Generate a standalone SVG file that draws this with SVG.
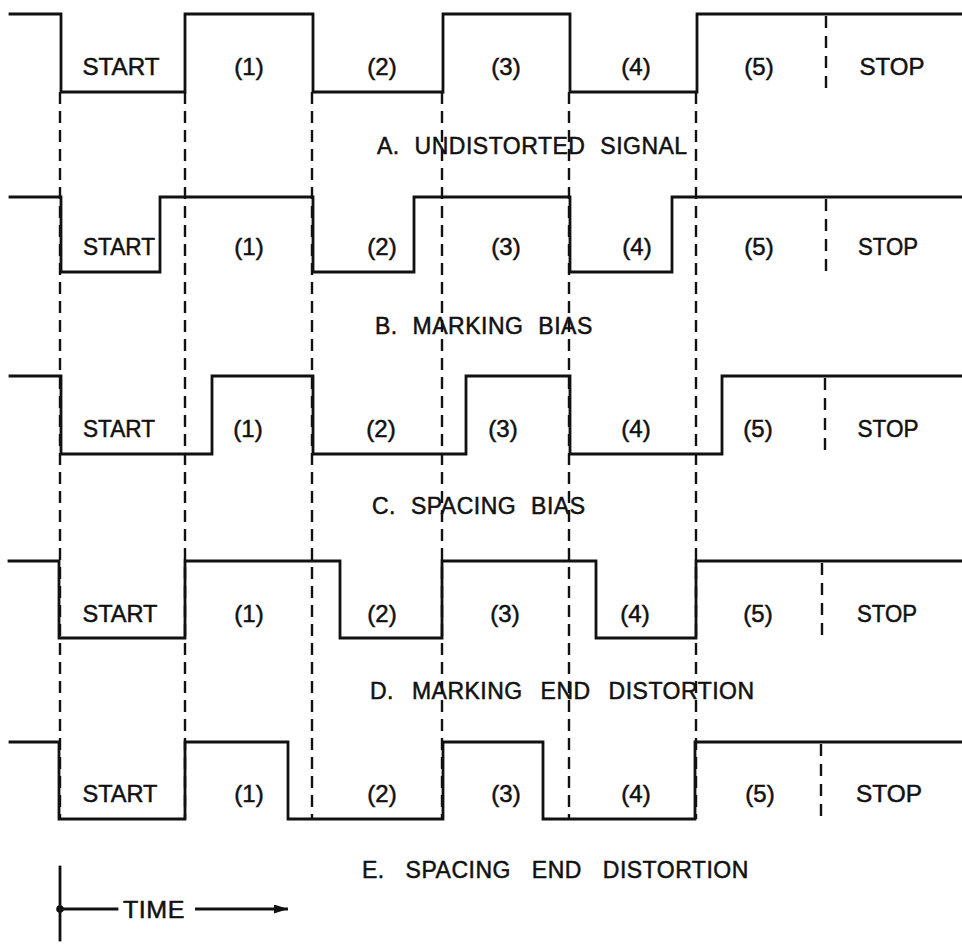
<svg xmlns="http://www.w3.org/2000/svg" width="962" height="950" viewBox="0 0 962 950">
<style>
.sig{fill:none;stroke:#111;stroke-width:2.8;stroke-linejoin:miter;stroke-linecap:square}
.grid{fill:none;stroke:#111;stroke-width:2.4;stroke-dasharray:12 7}
.stop{fill:none;stroke:#111;stroke-width:2.4;stroke-dasharray:12 8}
.lbl{font-family:"Liberation Sans",Arial,sans-serif;font-size:24px;fill:#111;stroke:#111;stroke-width:0.5;text-anchor:middle}
.ttl{font-family:"Liberation Sans",Arial,sans-serif;font-size:23px;fill:#111;stroke:#111;stroke-width:0.5;letter-spacing:0.5px;word-spacing:8px}
</style>
<defs>
<marker id="ah" viewBox="0 0 14 9" refX="14" refY="4.5" markerWidth="14" markerHeight="9" markerUnits="userSpaceOnUse" orient="auto">
<path d="M0,0 L14,4.5 L0,9 Z" fill="#111"/>
</marker>
</defs>
<rect width="962" height="950" fill="#fff"/>
<g id="connectors">
<path class="grid" d="M60,92 V819 M185,92 V819 M312,92 V819 M442,92 V819 M569,92 V819 M696,92 V819"/>
</g>
<g id="rowA">
<path class="sig" d="M10,14 H61 V92 H185 V14 H313 V92 H443 V14 H570 V92 H697 V14 H962"/>
<path class="stop" d="M826,16 V92"/>
<text class="lbl" x="121" y="75" textLength="77" lengthAdjust="spacingAndGlyphs">START</text>
<text class="lbl" x="249" y="75">(1)</text>
<text class="lbl" x="382" y="75">(2)</text>
<text class="lbl" x="506" y="75">(3)</text>
<text class="lbl" x="636" y="75">(4)</text>
<text class="lbl" x="759" y="75">(5)</text>
<text class="lbl" x="892" y="75" textLength="65" lengthAdjust="spacingAndGlyphs">STOP</text>
<text class="ttl" x="377" y="154">A. UNDISTORTED SIGNAL</text>
</g>
<g id="rowB">
<path class="sig" d="M10,197 H61 V272 H160 V197 H313 V272 H414 V197 H570 V272 H672 V197 H962"/>
<path class="stop" d="M826,199 V272"/>
<text class="lbl" x="119" y="255" textLength="72" lengthAdjust="spacingAndGlyphs">START</text>
<text class="lbl" x="249" y="255">(1)</text>
<text class="lbl" x="382" y="255">(2)</text>
<text class="lbl" x="506" y="255">(3)</text>
<text class="lbl" x="637" y="255">(4)</text>
<text class="lbl" x="759" y="255">(5)</text>
<text class="lbl" x="888" y="255" textLength="60" lengthAdjust="spacingAndGlyphs">STOP</text>
<text class="ttl" x="375" y="334">B. MARKING BIAS</text>
</g>
<g id="rowC">
<path class="sig" d="M10,376 H61 V454 H212 V376 H313 V454 H466 V376 H570 V454 H722 V376 H962"/>
<path class="stop" d="M825,378 V454"/>
<text class="lbl" x="119" y="437" textLength="72" lengthAdjust="spacingAndGlyphs">START</text>
<text class="lbl" x="248" y="437">(1)</text>
<text class="lbl" x="381" y="437">(2)</text>
<text class="lbl" x="503" y="437">(3)</text>
<text class="lbl" x="636" y="437">(4)</text>
<text class="lbl" x="758" y="437">(5)</text>
<text class="lbl" x="888" y="437" textLength="61" lengthAdjust="spacingAndGlyphs">STOP</text>
<text class="ttl" x="372" y="514">C. SPACING BIAS</text>
</g>
<g id="rowD">
<path class="sig" d="M9,561 H59 V638 H185 V561 H340 V638 H442 V561 H596 V638 H696 V561 H962"/>
<path class="stop" d="M822,563 V638"/>
<text class="lbl" x="120" y="622" textLength="75" lengthAdjust="spacingAndGlyphs">START</text>
<text class="lbl" x="249" y="622">(1)</text>
<text class="lbl" x="382" y="622">(2)</text>
<text class="lbl" x="505" y="622">(3)</text>
<text class="lbl" x="635" y="622">(4)</text>
<text class="lbl" x="758" y="622">(5)</text>
<text class="lbl" x="887" y="622" textLength="60" lengthAdjust="spacingAndGlyphs">STOP</text>
<text class="ttl" x="370" y="699" style="word-spacing:11px">D. MARKING END DISTORTION</text>
</g>
<g id="rowE">
<path class="sig" d="M10,742 H59 V819 H185 V742 H288 V819 H443 V742 H543 V819 H695 V742 H962"/>
<path class="stop" d="M821,744 V819"/>
<text class="lbl" x="120" y="802" textLength="75" lengthAdjust="spacingAndGlyphs">START</text>
<text class="lbl" x="249" y="802">(1)</text>
<text class="lbl" x="382" y="802">(2)</text>
<text class="lbl" x="506" y="802">(3)</text>
<text class="lbl" x="636" y="802">(4)</text>
<text class="lbl" x="760" y="802">(5)</text>
<text class="lbl" x="889" y="802" textLength="66" lengthAdjust="spacingAndGlyphs">STOP</text>
<text class="ttl" x="362" y="878" style="word-spacing:14px">E. SPACING END DISTORTION</text>
</g>
<g id="time">
<path class="sig" d="M60,867 V940"/>
<circle cx="60" cy="909" r="3.8" fill="#111"/>
<path class="sig" d="M60,909 H117"/>
<text class="ttl" x="123" y="918" textLength="62" lengthAdjust="spacingAndGlyphs">TIME</text>
<path d="M195,909 H288" fill="none" stroke="#111" stroke-width="2.8" marker-end="url(#ah)"/>
</g>
</svg>
